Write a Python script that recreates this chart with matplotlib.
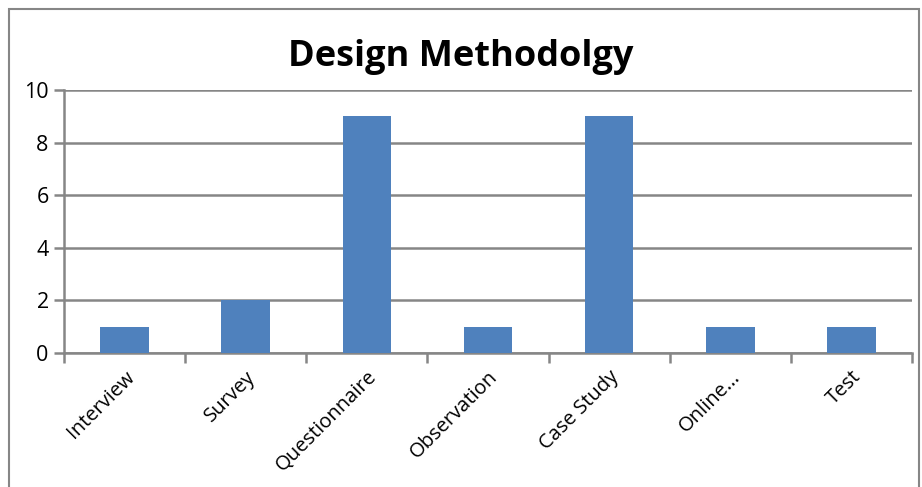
import matplotlib.pyplot as plt
from matplotlib.patches import Rectangle

# ── Data ──────────────────────────────────────────────────────────────────────

categories = ["Interview", "Survey", "Questionnaire", "Observation",
              "Case Study", "Online...", "Test"]
counts     = [1, 2, 9, 1, 9, 1, 1]
y_ticks    = [0, 2, 4, 6, 8, 10]

BAR_COLOR  = "#4F81BD"
GRID_COLOR = "#868686"

plt.rcParams["font.family"] = ["Open Sans", "DejaVu Sans"]

# ── Plot ──────────────────────────────────────────────────────────────────────

fig = plt.figure(figsize=(9.22, 4.87), dpi=100)
ax = fig.add_axes([64 / 922, 1 - 353 / 487, (912 - 64) / 922, (353 - 90) / 487])

x = list(range(len(categories)))
ax.bar(x, counts, width=0.4, color=BAR_COLOR, zorder=3)

ax.set_xlim(-0.5, len(categories) - 0.5)
ax.set_ylim(0, 10)
ax.set_yticks(y_ticks)
ax.set_yticklabels([str(t) for t in y_ticks], fontsize=15.5)
ax.yaxis.grid(True, color=GRID_COLOR, linewidth=1.8, zorder=0)

# category boundary ticks on the x axis
ax.set_xticks([i - 0.5 for i in range(len(categories) + 1)])
ax.set_xticklabels([])
ax.set_xticks(x, minor=True)
ax.set_xticklabels(categories, minor=True, rotation=45, ha="right",
                   rotation_mode="anchor", fontsize=14.5)
ax.tick_params(axis="x", which="minor", length=0, pad=10)
ax.tick_params(axis="x", which="major", length=7, width=1.8, color=GRID_COLOR)
ax.tick_params(axis="y", length=7, width=1.8, color=GRID_COLOR, pad=4)

for side in ["top", "right"]:
    ax.spines[side].set_visible(False)
for side in ["left", "bottom"]:
    ax.spines[side].set_color(GRID_COLOR)
    ax.spines[side].set_linewidth(1.8)

fig.text(461 / 922, 1 - 57 / 487, "Design Methodolgy", ha="center", va="center",
         fontsize=26, fontweight="bold")

# chart frame
fig.patches.append(Rectangle((9 / 922, -0.05), (919 - 9) / 922, 1 - 9 / 487 + 0.05,
                             transform=fig.transFigure, fill=False,
                             edgecolor=GRID_COLOR, linewidth=1.5))

fig.savefig("out.png", dpi=100)
